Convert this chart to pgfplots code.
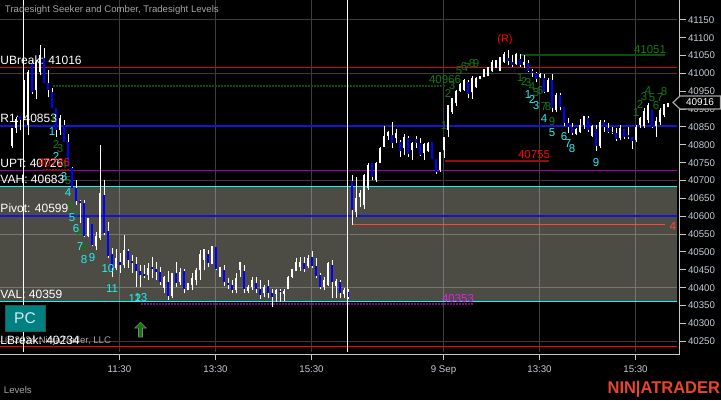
\documentclass[border=0pt]{standalone}
\usepackage{fontspec}
\setmainfont{Liberation Sans}
\usepackage{pgfplots}
\usepackage{pgfplotstable}
\pgfplotsset{compat=1.18}

\definecolor{band}{RGB}{76,75,68}
\definecolor{axisgray}{RGB}{200,200,200}
\definecolor{ticktxt}{RGB}{196,204,214}
\definecolor{txtgray}{RGB}{165,165,165}
\definecolor{dgreen}{RGB}{18,120,18}
\definecolor{dkgreen}{RGB}{12,78,12}
\definecolor{lvlcyan}{RGB}{32,240,240}
\definecolor{lvlblue}{RGB}{20,20,215}
\definecolor{lvlmag}{RGB}{160,0,160}
\definecolor{dotmag}{RGB}{130,10,130}
\definecolor{txtmag}{RGB}{225,35,225}
\definecolor{dkred}{RGB}{150,12,12}
\definecolor{orangered}{RGB}{255,70,55}
\definecolor{logo}{RGB}{232,70,42}

% x is bar position in chart pixels (4 per bar), the rest are prices
\pgfplotstableread{
x high low bhigh blow
12 40848 40792 40848 40798
16 40878 40834 40873 40848
24 40982 40876 40968 40898
28 41010 40828 41004 40856
36 41038 40929 41032 40954
40 41079 40996 41051 41004
60 40884 40828 40876 40842
88 40597 40544 40597 40546
96 40557 40507 40546 40518
100 40803 40535 40666 40541
116 40510 40451 40485 40457
124 40549 40457 40507 40465
148 40471 40424 40457 40437
164 40435 40387 40432 40401
172 40443 40373 40443 40379
180 40457 40410 40446 40418
188 40415 40396 40415 40396
192 40443 40396 40429 40410
196 40457 40410 40451 40424
200 40507 40424 40496 40451
204 40510 40451 40510 40479
212 40518 40468 40518 40468
220 40460 40432 40460 40432
236 40443 40387 40429 40396
240 40474 40432 40474 40451
248 40410 40387 40404 40393
252 40432 40396 40424 40404
264 40410 40376 40404 40387
276 40398 40362 40396 40385
284 40398 40365 40393 40385
288 40435 40398 40432 40398
292 40454 40429 40454 40432
296 40485 40449 40474 40449
300 40488 40449 40474 40460
308 40493 40457 40485 40463
324 40432 40396 40424 40404
328 40474 40407 40471 40410
336 40426 40373 40421 40407
344 40401 40373 40396 40385
356 40711 40599 40652 40613
360 40675 40627 40666 40655
364 40719 40622 40717 40633
368 40750 40675 40744 40680
376 40753 40697 40750 40703
380 40795 40750 40792 40750
384 40853 40795 40825 40795
388 40839 40814 40836 40825
396 40845 40806 40834 40820
404 40831 40772 40823 40792
412 40809 40758 40806 40786
424 40806 40758 40803 40778
428 40809 40781 40806 40784
440 40781 40725 40781 40731
444 40823 40764 40823 40786
448 40912 40823 40912 40842
452 40931 40887 40931 40892
456 40954 40909 40951 40917
460 40973 40948 40970 40951
464 40984 40951 40981 40954
472 40993 40929 40987 40948
476 40990 40959 40987 40962
480 40993 40984 40993 40984
484 41012 40990 41012 40990
488 41018 40993 41018 40993
492 41038 41004 41032 41007
496 41038 41015 41038 41015
500 41046 41007 41046 41007
504 41060 41029 41054 41032
516 41057 41024 41054 41027
524 41051 41015 41032 41024
540 41001 40987 40999 40990
548 40987 40948 40982 40948
556 40945 40892 40940 40898
576 40848 40828 40845 40831
580 40873 40834 40856 40837
584 40881 40845 40881 40856
592 40856 40823 40853 40826
600 40870 40792 40865 40798
620 40856 40814 40848 40820
636 40856 40809 40851 40814
640 40878 40848 40876 40856
644 40904 40848 40895 40853
648 40918 40862 40912 40870
656 40878 40823 40867 40853
660 40904 40856 40898 40865
664 40915 40878 40915 40884
668 40918 40906 40918 40906
}\whitebars

\pgfplotstableread{
x high low bhigh blow
20 40881 40842 40881 40870
32 41038 40943 41029 40948
44 41071 40973 41043 40973
48 41010 40934 40973 40954
52 40959 40904 40948 40904
56 40904 40823 40904 40842
64 40870 40809 40856 40809
68 40831 40739 40809 40739
72 40739 40680 40736 40680
76 40703 40633 40680 40644
80 40647 40583 40644 40638
84 40647 40544 40638 40546
92 40580 40518 40580 40521
104 40703 40549 40661 40555
108 40585 40485 40560 40490
112 40513 40432 40496 40457
120 40499 40443 40474 40465
128 40510 40457 40504 40479
132 40493 40443 40477 40471
136 40488 40404 40468 40449
140 40465 40404 40449 40437
144 40465 40429 40440 40435
152 40488 40429 40460 40454
156 40474 40424 40454 40446
160 40460 40410 40446 40418
168 40449 40368 40418 40379
176 40474 40404 40443 40415
184 40454 40387 40449 40398
208 40507 40460 40496 40471
216 40516 40451 40516 40454
224 40465 40407 40451 40418
228 40429 40398 40415 40410
232 40424 40387 40410 40396
244 40465 40387 40449 40398
256 40432 40387 40415 40398
260 40424 40371 40398 40382
268 40424 40373 40407 40387
272 40398 40348 40387 40376
280 40398 40362 40393 40390
304 40488 40446 40471 40454
312 40504 40457 40488 40463
316 40485 40429 40463 40435
320 40443 40398 40437 40404
332 40479 40373 40465 40418
340 40424 40373 40418 40387
348 40398 40371 40390 40376
352 40717 40577 40700 40619
372 40750 40703 40750 40711
392 40865 40792 40828 40806
400 40814 40767 40809 40784
408 40825 40767 40820 40775
416 40825 40792 40817 40806
420 40820 40770 40806 40772
432 40809 40761 40809 40761
436 40761 40719 40761 40725
468 40982 40931 40976 40943
508 41065 41024 41043 41035
512 41051 41018 41032 41024
520 41054 41018 41040 41024
528 41038 41004 41029 41007
532 41012 40990 41007 41001
536 41004 40976 41001 40984
544 40998 40945 40987 40948
552 40998 40892 40982 40904
560 40945 40898 40940 40906
564 40906 40853 40906 40862
568 40876 40834 40862 40851
572 40862 40828 40851 40834
588 40881 40837 40876 40842
596 40856 40784 40845 40798
604 40870 40837 40865 40851
608 40862 40834 40848 40837
612 40851 40831 40837 40834
616 40848 40811 40834 40817
624 40845 40817 40845 40823
628 40851 40817 40828 40823
632 40823 40789 40823 40811
652 40898 40848 40898 40851
}\bluebars

\pgfdeclareplotmark{uparrow}{%
  \pgfpathmoveto{\pgfpoint{0pt}{8pt}}
  \pgfpathlineto{\pgfpoint{6pt}{2pt}}
  \pgfpathlineto{\pgfpoint{2pt}{2pt}}
  \pgfpathlineto{\pgfpoint{2pt}{-7pt}}
  \pgfpathlineto{\pgfpoint{-2pt}{-7pt}}
  \pgfpathlineto{\pgfpoint{-2pt}{2pt}}
  \pgfpathlineto{\pgfpoint{-6pt}{2pt}}
  \pgfpathclose
  \pgfusepathqfillstroke}

\pgfplotsset{
  bars/.style 2 args={draw=none, mark=none, forget plot,
    error bars/.cd, y dir=plus, y explicit, error mark=none,
    error bar style={draw=#1, line width=#2}},
  lvl/.style 2 args={draw=#1, line width=#2, mark=none, forget plot},
}

\begin{document}
\begin{tikzpicture}
\fill[black] (0,0) rectangle (721pt,400pt);
\useasboundingbox (0,0) rectangle (721pt,400pt);
\begin{axis}[
  at={(0pt,46pt)}, anchor=south west,
  scale only axis, width=679.5pt, height=354pt,
  xmin=-0.5, xmax=679, ymin=40214.3, ymax=41205.5,
  axis x line=bottom, axis y line=right,
  axis line style={-, draw=axisgray, line width=1pt},
  tick style={draw=axisgray, line width=1pt},
  tick align=outside, major tick length=6pt,
  xtick={119,215,311,443,539,635},
  xticklabels={11:30,13:30,15:30,9 Sep,13:30,15:30},
  ytick={40250,40300,...,41150},
  scaled y ticks=false,
  /pgf/number format/assume math mode=true,
  /pgf/number format/fixed, /pgf/number format/1000 sep={},
  tick label style={text=ticktxt, font=\fontsize{9.7}{10}\selectfont},
  xticklabel style={yshift=-2pt},
  yticklabel style={xshift=-1pt},
  clip=true,
  unbounded coords=jump,
]
% value area
\addplot[fill=band, draw=none, forget plot] coordinates
  {(-0.5,40684) (676.5,40684) (676.5,40362) (-0.5,40362)} -- cycle;
% grid, over the band
\addplot[lvl={white,opacity=0.24}{1pt}] table {
x y
-0.5 41150
676.5 41150
nan nan
-0.5 41000
676.5 41000
nan nan
-0.5 40850
676.5 40850
nan nan
-0.5 40700
676.5 40700
nan nan
-0.5 40550
676.5 40550
nan nan
-0.5 40400
676.5 40400
nan nan
-0.5 40250
676.5 40250
nan nan
119 40221
119 41205
nan nan
215 40221
215 41205
nan nan
311 40221
311 41205
nan nan
443 40221
443 41205
nan nan
539 40221
539 41205
nan nan
635 40221
635 41205
};
% levels
\addplot[lvl={red!85!black}{1.1pt}] coordinates {(-0.5,41017) (676.5,41017)};
\addplot[lvl={lvlblue}{1.3pt}] coordinates {(-0.5,40853) (676.5,40853)};
\addplot[lvl={lvlmag}{1.2pt}] coordinates {(-0.5,40728) (676.5,40728)};
\addplot[lvl={lvlcyan}{1.2pt}] coordinates {(-0.5,40684) (676.5,40684)};
\addplot[lvl={lvlblue}{1.3pt}] coordinates {(-0.5,40601) (676.5,40601)};
\addplot[lvl={lvlcyan}{1.2pt}] coordinates {(-0.5,40362) (676.5,40362)};
\addplot[lvl={red}{1.2pt}] coordinates {(-0.5,40236) (676.5,40236)};
% Seeker targets
\addplot[lvl={dkgreen}{2pt}, dash pattern=on 2pt off 1pt] coordinates {(52,40966) (444,40966)};
\addplot[lvl={dotmag}{2pt}, dash pattern=on 2pt off 1pt] coordinates {(140,40355) (472,40355)};
\addplot[lvl={dkred}{2pt}, dash pattern=on 2pt off 1pt] coordinates {(42,40730) (68,40730)};
\addplot[lvl={dkred}{2pt}] coordinates {(444,40755) (548,40755)};
\addplot[lvl={dkgreen}{2pt}] coordinates {(520,41051) (664,41051)};
\addplot[lvl={orangered}{1pt}] coordinates {(351,40577) (664,40577)};
% bars: wicks, then bodies; the small term corrects the reading scale
\addplot[bars={white}{1pt}] table[x=x, y expr=\thisrow{low}-0.00322*(41205-\thisrow{low}), y error plus expr=\thisrow{high}-\thisrow{low}] {\whitebars};
\addplot[bars={white}{1pt}] table[x=x, y expr=\thisrow{low}-0.00322*(41205-\thisrow{low}), y error plus expr=\thisrow{high}-\thisrow{low}] {\bluebars};
\addplot[bars={white}{2pt}] table[x expr=\thisrow{x}-0.5, y expr=\thisrow{blow}-0.00322*(41205-\thisrow{blow}), y error plus expr=\thisrow{bhigh}-\thisrow{blow}] {\whitebars};
\addplot[bars={blue}{2pt}] table[x expr=\thisrow{x}-0.5, y expr=\thisrow{blow}-0.00322*(41205-\thisrow{blow}), y error plus expr=\thisrow{bhigh}-\thisrow{blow}] {\bluebars};
% session breaks
\addplot[lvl={white}{1.2pt}] coordinates {(23,40221) (23,41205)};
\addplot[lvl={white}{1.2pt}] coordinates {(347,40221) (347,41205)};
% signal arrow
\addplot[only marks, mark=uparrow, mark options={fill=dgreen, draw=gray, line width=0.6pt}, forget plot]
  coordinates {(140,40281)};
\end{axis}

% annotations, in image pixels from the top left
\begin{scope}[x=1pt, y=-1pt, shift={(0pt,400pt)}, every node/.style={inner sep=0pt, outer sep=0pt}]
\node[anchor=west, text=txtgray, font=\fontsize{9.6}{11}\selectfont] at (5,10) {Tradesight Seeker and Comber, Tradesight Levels};
\node[anchor=west, text=txtgray, font=\fontsize{9.6}{11}\selectfont] at (4,390) {Levels};
\node[anchor=west, text=txtgray, font=\fontsize{9.6}{11}\selectfont] at (5,341.5) {© 2024 NinjaTrader, LLC};
\foreach \yy/\t in {60/UBreak: 41016, 118/R1: 40853, 163/UPT: 40726, 179/VAH: 40683, 208.5/Pivot: 40599, 294/VAL: 40359, 340/LBreak: 40234}
  \node[anchor=west, text=white, font=\fontsize{12}{13}\selectfont] at (0.5,\yy) {\t};
\foreach \xx/\yy/\t in {53/118/1, 56/144/2, 60/149/3, 64/165/4, 68/181/5, 71/207/6, 76/217/7, 80/234/8, 84/248/9,
    444/126/1, 448/93/2, 452/86/3, 459/71/5, 464/67/6, 467/68/7, 472/64/8, 476/64/9,
    520/78/1, 524/81/2, 528/83/3, 532/87/4, 536/93/5, 540/91/6, 544/107/7, 548/107/8, 552/122/9,
    636/113/1, 640/104/2, 644/97/3, 648/91/4, 652/98/5, 656/106/6, 660/98/7, 664/92/8}
  \node[text=dgreen, font=\fontsize{11.5}{12}\selectfont] at (\xx,\yy) {\t};
\foreach \xx/\yy/\t in {52/132/1, 56/156/2, 64/177/3, 68/193/4, 72/218/5, 76/229/6, 80/247/7, 84/260/8, 92/258/9,
    108/269/10, 112/289/11, 135/298/12, 141/298/13,
    528/95/1, 532/99/2, 536/106/3, 544/119/4, 552/133/5, 564/137/6, 568/144/7, 572/149/8, 596/163/9}
  \node[text=lvlcyan, font=\fontsize{11.5}{12}\selectfont] at (\xx,\yy) {\t};
\node[text=dgreen, font=\fontsize{11.5}{12}\selectfont] at (445,80) {40966};
\node[text=dgreen, font=\fontsize{11.5}{12}\selectfont] at (650,50) {41051};
\node[text=red, font=\fontsize{11.5}{12}\selectfont] at (54,163) {40726};
\node[text=red, font=\fontsize{11.5}{12}\selectfont] at (534,155) {40755};
\node[text=red, font=\fontsize{11}{12}\selectfont] at (505,40) {(R)};
\node[text=txtmag, font=\fontsize{11.5}{12}\selectfont] at (458,298.5) {40353};
\node[text=orangered, font=\fontsize{12}{12}\selectfont] at (673,226) {4};
% PC button
\fill[draw={rgb,255:red,30;green,90;blue,90}, fill={rgb,255:red,0;green,128;blue,128}, line width=1pt] (5.5,305.5) rectangle (45,331.5);
\node[text=white!85!teal, font=\fontsize{15.5}{16}\selectfont] at (25,318.5) {PC};
% last price marker
\fill[fill=black, draw={rgb,255:red,165;green,165;blue,165}, line width=1.2pt]
  (673,102.5) -- (680,96) -- (720.4,96) -- (720.4,109) -- (680,109) -- cycle;
\node[text=white, font=\fontsize{10}{11}\selectfont] at (700,102.5) {40916};
% logo
\node[anchor=east, text=logo, xscale=0.97, font=\bfseries\fontsize{17}{18}\selectfont] at (720,389.5) {NIN|ATRADER};
\end{scope}
\end{tikzpicture}
\end{document}
